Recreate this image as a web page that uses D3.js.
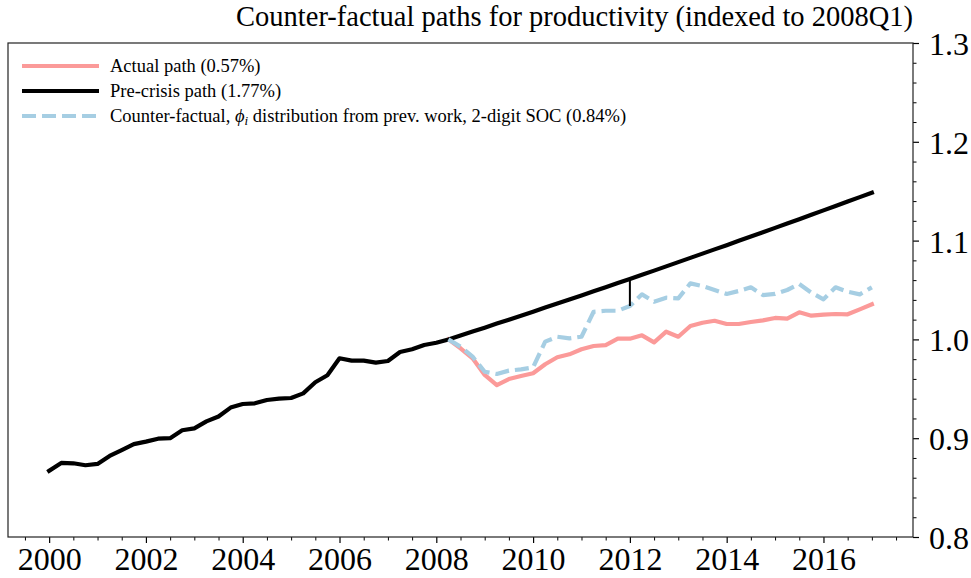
<!DOCTYPE html>
<html>
<head>
<meta charset="utf-8">
<script src="https://cdn.jsdelivr.net/npm/d3@7"></script>
<style>
  html, body { margin: 0; padding: 0; background: #fff; }
  svg { display: block; }
  text { font-family: "Liberation Serif", "Times New Roman", serif; fill: #000; }
</style>
</head>
<body>
<svg id="chart" width="971" height="578"></svg>
<script>
// Quarterly dates, 2000Q1 .. 2017Q1 as decimal years
const startYear = 2000;
const quarterCount = 69;
const crisisStart = 2008.25;

// Pre-crisis path: observed productivity to the index quarter, then the pre-crisis trend
const preCrisis = [
  0.867, 0.875, 0.8746, 0.8726, 0.874, 0.882, 0.888, 0.894, 0.8965, 0.8995,
  0.900, 0.908, 0.910, 0.917, 0.922, 0.931, 0.9346, 0.9353, 0.9387, 0.940,
  0.9407, 0.9454, 0.9566, 0.9637, 0.9809, 0.9785, 0.9785, 0.9765, 0.9781, 0.9872,
  0.990, 0.9943, 0.9966, 1.000,
  1.0040, 1.0079, 1.0119, 1.0160, 1.0200, 1.0240, 1.0281, 1.0322, 1.0363, 1.0404,
  1.0445, 1.0487, 1.0528, 1.0570, 1.0612, 1.0654, 1.0696, 1.0739, 1.0782, 1.0825,
  1.0868, 1.0911, 1.0954, 1.0998, 1.1041, 1.1085, 1.1129, 1.1172, 1.1217, 1.1261,
  1.1306, 1.1350, 1.1395, 1.1440, 1.1485
];

// Actual path from the index quarter on
const actualPath = [
  1.000, 0.991, 0.9809, 0.964, 0.9538, 0.9599, 0.963, 0.9657, 0.9748, 0.9819,
  0.9849, 0.990, 0.9933, 0.9943, 1.0007, 1.0007, 1.0041, 0.997, 1.0078, 1.0027,
  1.0136, 1.0169, 1.0189, 1.0156, 1.0156, 1.0176, 1.0193, 1.0217, 1.021, 1.0274,
  1.024, 1.025, 1.0257, 1.0254, 1.0304, 1.0355
];

// Counter-factual path from the index quarter on
const counterFactual = [
  1.000, 0.9926, 0.9825, 0.9673, 0.965, 0.9684, 0.9697, 0.9717, 0.9977, 1.0027,
  1.0011, 1.0027, 1.028, 1.029, 1.029, 1.0338, 1.0456, 1.0382, 1.0422, 1.0415,
  1.0567, 1.054, 1.050, 1.046, 1.049, 1.0527, 1.0449, 1.046, 1.050, 1.056,
  1.0473, 1.0406, 1.0527, 1.0483, 1.0456, 1.0527
];

const gapYear = 2012;
const xTickYears = [2000, 2002, 2004, 2006, 2008, 2010, 2012, 2014, 2016];
const yTickValues = [0.8, 0.9, 1.0, 1.1, 1.2, 1.3];

const legendLabels = [
  "Actual path (0.57%)",
  "Pre-crisis path (1.77%)",
  "Counter-factual, ϕ_i distribution from prev. work, 2-digit SOC (0.84%)"
];
const titleText = "Counter-factual paths for productivity (indexed to 2008Q1)";

const colors = { actual: "#fb9a99", pre: "#000000", cf: "#a6cee3" };

const quarters = d3.range(quarterCount).map(i => startYear + i * 0.25);
const postQuarters = quarters.filter(q => q >= crisisStart);

const svg = d3.select("#chart");
const plot = { left: 8, right: 913, top: 43, bottom: 537 };

const x = d3.scaleLinear().domain([1999.15, 2017.85]).range([plot.left, plot.right]);
const y = d3.scaleLinear().domain([0.8, 1.3]).range([plot.bottom, plot.top]);

svg.append("rect").attr("width", 971).attr("height", 578).attr("fill", "#fff");

const line = d3.line().x(d => x(d[0])).y(d => y(d[1]));
const lw = 4.2;
const dash = "14,6";

// Series
svg.append("path")
  .datum(postQuarters.map((q, i) => [q, actualPath[i]]))
  .attr("d", line).attr("fill", "none")
  .attr("stroke", colors.actual).attr("stroke-width", lw)
  .attr("stroke-linejoin", "round").attr("stroke-linecap", "square");

svg.append("path")
  .datum(quarters.map((q, i) => [q, preCrisis[i]]))
  .attr("d", line).attr("fill", "none")
  .attr("stroke", colors.pre).attr("stroke-width", lw)
  .attr("stroke-linejoin", "round").attr("stroke-linecap", "square");

svg.append("path")
  .datum(postQuarters.map((q, i) => [q, counterFactual[i]]))
  .attr("d", line).attr("fill", "none")
  .attr("stroke", colors.cf).attr("stroke-width", lw)
  .attr("stroke-dasharray", dash)
  .attr("stroke-linejoin", "round").attr("stroke-linecap", "butt");

// Gap between pre-crisis trend and counter-factual in 2012
const gi = quarters.indexOf(gapYear);
const gpi = postQuarters.indexOf(gapYear);
svg.append("line")
  .attr("x1", x(gapYear)).attr("x2", x(gapYear))
  .attr("y1", y(preCrisis[gi])).attr("y2", y(counterFactual[gpi]))
  .attr("stroke", "#000").attr("stroke-width", 2);

// Axes
const tickFont = 32;
const xMinor = d3.range(1999.5, 2017.51, 0.5).filter(v => !xTickYears.includes(v));
const yMinor = d3.range(0.8, 1.3001, 0.02).map(v => +v.toFixed(2))
  .filter(v => !yTickValues.some(t => Math.abs(t - v) < 1e-6));

const gx = svg.append("g").attr("transform", `translate(0,${plot.bottom})`)
  .call(d3.axisBottom(x).tickValues(xTickYears).tickFormat(d3.format("d"))
    .tickSize(6).tickPadding(4));
gx.select(".domain").remove();
gx.selectAll("line").attr("stroke", "#000").attr("stroke-width", 1.2);
gx.selectAll("text").attr("font-size", tickFont).attr("font-family", "Liberation Serif");

const gxm = svg.append("g").attr("transform", `translate(0,${plot.bottom})`)
  .call(d3.axisBottom(x).tickValues(xMinor).tickSize(3.5).tickFormat(""));
gxm.select(".domain").remove();
gxm.selectAll("line").attr("stroke", "#000").attr("stroke-width", 1);

const gy = svg.append("g").attr("transform", `translate(${plot.right},0)`)
  .call(d3.axisRight(y).tickValues(yTickValues).tickFormat(d3.format(".1f"))
    .tickSize(6).tickPadding(10));
gy.select(".domain").remove();
gy.selectAll("line").attr("stroke", "#000").attr("stroke-width", 1.2);
gy.selectAll("text").attr("font-size", tickFont).attr("font-family", "Liberation Serif")
  .attr("dy", "0.36em");

const gym = svg.append("g").attr("transform", `translate(${plot.right},0)`)
  .call(d3.axisRight(y).tickValues(yMinor).tickSize(3.5).tickFormat(""));
gym.select(".domain").remove();
gym.selectAll("line").attr("stroke", "#000").attr("stroke-width", 1);

// Frame
svg.append("rect")
  .attr("x", plot.left).attr("y", plot.top)
  .attr("width", plot.right - plot.left).attr("height", plot.bottom - plot.top)
  .attr("fill", "none").attr("stroke", "#222").attr("stroke-width", 1.2);

// Title
svg.append("text")
  .attr("x", plot.right).attr("y", 26)
  .attr("text-anchor", "end").attr("font-size", 28.5)
  .text(titleText);

// Legend
const legend = svg.append("g");
const rowY = [66, 91, 116];
const styles = [
  { c: colors.actual, dash: null },
  { c: colors.pre, dash: null },
  { c: colors.cf, dash: dash }
];
legendLabels.forEach((lab, i) => {
  legend.append("line")
    .attr("x1", 22).attr("x2", 99).attr("y1", rowY[i]).attr("y2", rowY[i])
    .attr("stroke", styles[i].c).attr("stroke-width", lw)
    .attr("stroke-dasharray", styles[i].dash);
  const t = legend.append("text")
    .attr("x", 110).attr("y", rowY[i] + 6).attr("font-size", 18.5);
  const parts = lab.split("ϕ_i");
  if (parts.length === 2) {
    t.append("tspan").text(parts[0]);
    t.append("tspan").attr("font-style", "italic").text("ϕ");
    t.append("tspan").attr("font-style", "italic").attr("font-size", 13)
      .attr("dy", 3).text("i");
    t.append("tspan").attr("dy", -3).text(parts[1]);
  } else {
    t.text(lab);
  }
});
</script>
</body>
</html>
